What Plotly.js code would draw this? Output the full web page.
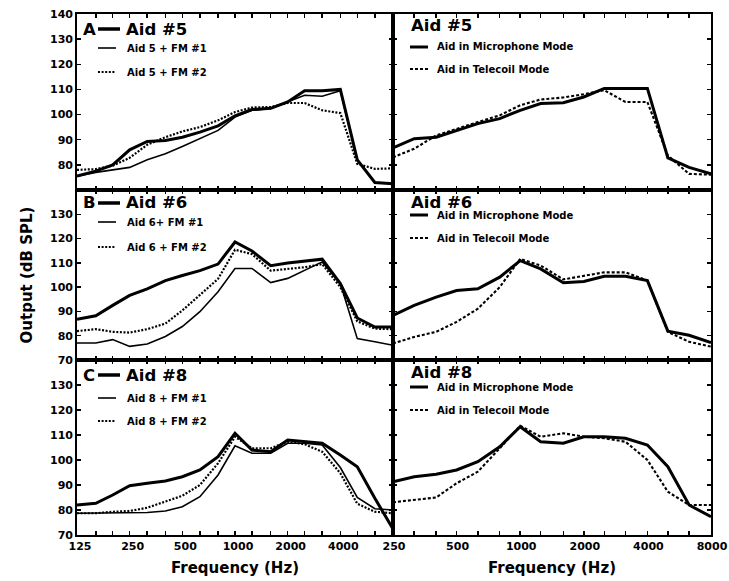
<!DOCTYPE html>
<html><head><meta charset="utf-8">
<script src="https://cdn.plot.ly/plotly-3.0.1.min.js"></script>
<style>html,body{margin:0;padding:0;background:#fff}#chart{width:729px;height:581px}</style>
</head><body><div id="chart"></div>
<script>
// ---- data ----
const freqLeft  = [125,160,200,250,315,400,500,630,800,1000,1250,1600,2000,2500,3150,4000,5000,6300,8000];
const freqRight = [250,315,400,500,630,800,1000,1250,1600,2000,2500,3150,4000,5000,6300,8000];

// Panel A (left): Aid #5 with FM systems
const aid5      = [75.5,77.5,80,86,89.3,89.7,91,93,95.5,99.5,102,102.5,105,109.5,109.5,110,82,73,72.5];
const aid5fm1   = [75.5,77,78,79,82,84.4,87.3,90.4,93.7,99,101.7,102.4,105,107.7,107.3,109.5,82,73,72.5];
const aid5fm2   = [78,78.3,79.7,82.8,88,91,93.3,95,97.7,101,102.8,103,104.6,104.6,101.7,100.6,80.4,78.4,78.6];
// Panel A (right): Aid #5 microphone / telecoil
const mic5      = [86.8,90.4,91,93.7,96.4,98.4,101.7,104.4,104.7,107,110.4,110.4,110.4,82.8,79,76.4];
const tele5     = [83,86.4,91.7,94.4,97,99.7,103.7,106,106.8,108.1,109.7,105,105,83.7,76.4,76.1];
// Panel B (left): Aid #6 with FM systems
const aid6      = [86.8,88.2,92.5,96.6,99.3,102.7,104.8,106.8,109.5,118.6,114.9,108.8,109.9,110.8,111.5,101.5,87.3,83.6,83.6];
const aid6fm1   = [77,77,78.4,75.6,76.6,79.7,83.8,89.9,98.1,107.7,107.7,101.9,103.6,107,110.4,101.5,78.8,77.5,76.1];
const aid6fm2   = [81.9,82.7,81.6,81.3,82.7,85,90.4,96.6,103.4,115.4,113.6,106.8,107.5,108.2,109.5,100,85.9,82.9,82.7];
// Panel B (right): Aid #6 microphone / telecoil
const mic6      = [88.4,92.5,95.9,98.6,99.3,104.1,110.9,107.5,101.8,102.3,104.5,104.5,102.7,81.9,80.2,77.2];
const tele6     = [76.8,79.5,81.6,85.7,91.1,100,111.6,108.9,103.2,104.8,106.1,106.1,102.7,81.6,77.5,75.5];
// Panel C (left): Aid #8 with FM systems
const aid8      = [82,82.7,86,89.7,90.7,91.6,93.3,96,101.3,110.7,104,103.3,108,107.3,106.7,102,97.3,84.7,72.4];
const aid8fm1   = [78.7,78.7,79,78.7,79,79.6,81.3,85.3,94,105.7,102.7,102.7,106.7,106.7,106,97,85,80.5,80];
const aid8fm2   = [78.7,78.7,79.3,79.6,80.9,83.3,85.7,90,98.7,109.3,104.7,104.7,107.3,106.3,103.3,94.7,82.5,79.3,78.7];
// Panel C (right): Aid #8 microphone / telecoil
const mic8      = [91.3,93.3,94.3,96,99.3,105.3,113.3,107.3,106.7,109.3,109.3,108.7,106,97.3,82,77.3];
const tele8     = [83.1,84,85,90.7,95.3,104.7,113.7,109.3,110.7,109.3,108.7,107.3,100,87.3,82,82];

// tick labels
const tickLeftText  = ['125','','','250','','','500','','','1000','','','2000','','','4000','','',''];
const tickRightText = ['250','','','500','','','1000','','','2000','','','4000','','','8000'];
const yTicksTop   = [80,90,100,110,120,130,140];
const yTicksLower = [70,80,90,100,110,120,130];

// legend texts
const headLetters = ['A','B','C'];
const headNames   = ['Aid #5','Aid #6','Aid #8'];
const fmLabels    = [['Aid 5 + FM #1','Aid 5 + FM #2'],['Aid 6+ FM #1','Aid 6 + FM #2'],['Aid 8 + FM #1','Aid 8 + FM #2']];
const modeLabels  = ['Aid in Microphone Mode','Aid in Telecoil Mode'];
const xTitle = 'Frequency (Hz)';
const yTitle = 'Output (dB SPL)';

// ---- styles ----
const FONT = 'DejaVu Sans, sans-serif';
const THICK  = {color:'#000', width:3};
const THIN   = {color:'#000', width:1.6};
const DOTTED = {color:'#000', width:2.2, dash:'2px,1.6px'};
const DASHED = {color:'#000', width:2.1, dash:'3px,2px'};

function tr(x, y, xa, ya, line){
  return {x:x, y:y, xaxis:xa, yaxis:ya, type:'scatter', mode:'lines', line:line, hoverinfo:'skip'};
}
const traces = [
  tr(freqLeft, aid5fm1,'x','y',THIN), tr(freqLeft, aid5fm2,'x','y',DOTTED), tr(freqLeft, aid5,'x','y',THICK),
  tr(freqRight, tele5,'x2','y2',DASHED), tr(freqRight, mic5,'x2','y2',THICK),
  tr(freqLeft, aid6fm1,'x3','y3',THIN), tr(freqLeft, aid6fm2,'x3','y3',DOTTED), tr(freqLeft, aid6,'x3','y3',THICK),
  tr(freqRight, tele6,'x4','y4',DASHED), tr(freqRight, mic6,'x4','y4',THICK),
  tr(freqLeft, aid8fm1,'x5','y5',THIN), tr(freqLeft, aid8fm2,'x5','y5',DOTTED), tr(freqLeft, aid8,'x5','y5',THICK),
  tr(freqRight, tele8,'x6','y6',DASHED), tr(freqRight, mic8,'x6','y6',THICK)
];

const L = 77, R = 711, T = 14, B = 535;
const PX = px => (px - L) / (R - L);
const PY = py => (B - py) / (B - T);
const colL = [0, PX(393)], colR = [PX(393), 1];
const rows = [[PY(190), 1], [PY(360), PY(190)], [0, PY(360)]];

const tickFont = {family:FONT, size:11, color:'#000', weight:'bold'};
function xax(left, row){
  const bottom = row === 2;
  return {
    type:'log', domain: left ? colL : colR,
    range: left ? [Math.log10(125), Math.log10(8000)] : [Math.log10(250), Math.log10(8000)],
    tickvals: left ? freqLeft : freqRight,
    ticktext: left ? tickLeftText : tickRightText,
    showticklabels: bottom, tickfont: tickFont, tickangle:0,
    ticklabelshift: left ? 3 : 1,
    ticks:'inside', ticklen:4, tickwidth:1.5, tickcolor:'#000',
    showline:true, linecolor:'#000', linewidth:1.8, mirror:'ticks',
    showgrid:false, zeroline:false, fixedrange:true,
    title: bottom ? {text:xTitle, font:{family:FONT, size:15, color:'#000', weight:'bold'}, standoff:10} : undefined
  };
}
function yax(left, row, anchor){
  const vals = row === 0 ? yTicksTop : yTicksLower;
  return {
    domain: rows[row], range:[70,140], anchor:anchor,
    tickvals: vals, ticktext: vals.map(String),
    showticklabels: left, tickfont: tickFont,
    ticks:'inside', ticklen:4, tickwidth:1.5, tickcolor:'#000',
    showline:true, linecolor:'#000', linewidth:1.8, mirror:'ticks',
    showgrid:false, zeroline:false, fixedrange:true,
    title: (left && row === 1) ? {text:yTitle, font:{family:FONT, size:15, color:'#000', weight:'bold'}, standoff:14} : undefined
  };
}

const layout = {
  width:729, height:581, showlegend:false,
  margin:{l:L, r:729-R, t:T, b:581-B, pad:0},
  paper_bgcolor:'#fff', plot_bgcolor:'#fff',
  xaxis: Object.assign(xax(true,0), {anchor:'y'}),
  yaxis: yax(true,0,'x'),
  xaxis2: Object.assign(xax(false,0), {anchor:'y2'}),
  yaxis2: yax(false,0,'x2'),
  xaxis3: Object.assign(xax(true,1), {anchor:'y3'}),
  yaxis3: yax(true,1,'x3'),
  xaxis4: Object.assign(xax(false,1), {anchor:'y4'}),
  yaxis4: yax(false,1,'x4'),
  xaxis5: Object.assign(xax(true,2), {anchor:'y5'}),
  yaxis5: yax(true,2,'x5'),
  xaxis6: Object.assign(xax(false,2), {anchor:'y6'}),
  yaxis6: yax(false,2,'x6'),
  annotations: [], shapes: []
};

function txt(text, px, py, size){
  layout.annotations.push({text:text, xref:'paper', yref:'paper', x:PX(px), y:PY(py),
    xanchor:'left', yanchor:'middle', showarrow:false,
    font:{family:FONT, size:size, color:'#000', weight:'bold'}});
}
function seg(px0, px1, py, line){
  layout.shapes.push({type:'line', xref:'paper', yref:'paper', x0:PX(px0), x1:PX(px1), y0:PY(py), y1:PY(py),
    line:Object.assign({}, line)});
}

// left-column legends
const leftHead = [29, 203, 375];
const leftE1 = [48, 222, 398];
const leftE2 = [72, 247, 421];
for (let r = 0; r < 3; r++){
  txt(headLetters[r], 81, leftHead[r], 16.5);
  seg(98, 120, leftHead[r], {color:'#000', width:3.5});
  txt(headNames[r], 124, leftHead[r], 16.5);
  seg(98, 116, leftE1[r], THIN);
  txt(fmLabels[r][0], 125, leftE1[r], 10);
  seg(98, 116, leftE2[r], DOTTED);
  txt(fmLabels[r][1], 125, leftE2[r], 10);
}
// right-column legends
const rightHead = [25, 202, 372];
const rightE1 = [47, 215, 387];
const rightE2 = [69, 238, 410];
for (let r = 0; r < 3; r++){
  txt(headNames[r], 409, rightHead[r], 16.5);
  seg(410, 428, rightE1[r], THICK);
  txt(modeLabels[0], 435, rightE1[r], 10);
  seg(410, 428, rightE2[r], DASHED);
  txt(modeLabels[1], 435, rightE2[r], 10);
}

Plotly.newPlot('chart', traces, layout, {displayModeBar:false, staticPlot:true});
</script>
</body></html>
